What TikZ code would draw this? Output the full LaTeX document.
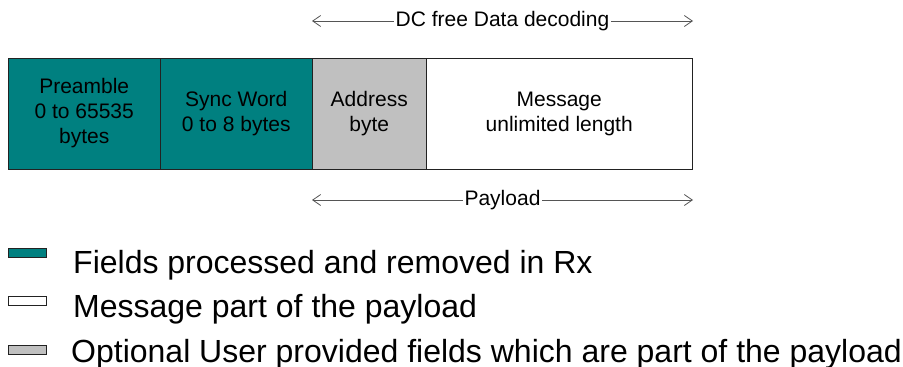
\documentclass[tikz,border=0pt]{standalone}
\usepackage{fontspec}
\setmainfont{Liberation Sans}
\usetikzlibrary{arrows.meta}
\definecolor{teal1}{HTML}{008080}
\definecolor{gray1}{HTML}{C0C0C0}
\definecolor{edge1}{HTML}{222222}
\definecolor{arr1}{HTML}{555555}
\begin{document}
\begin{tikzpicture}[x=1pt,y=-1pt,
  field/.style={draw=edge1,line width=0.9pt,minimum height=111pt,inner sep=0pt,outer sep=0pt,
    anchor=north west,align=center,font=\fontsize{21}{25}\selectfont},
  swatch/.style={draw=edge1,line width=0.8pt,minimum width=38pt,minimum height=9pt,inner sep=0pt,anchor=north west},
  legtext/.style={anchor=base west,inner sep=0pt,font=\fontsize{32}{38}\selectfont},
  span/.style={draw=arr1,line width=0.8pt,{Straight Barb[length=8pt,width=11pt]}-{Straight Barb[length=8pt,width=11pt]}},
  spanlabel/.style={fill=white,inner sep=2pt,font=\fontsize{21}{25}\selectfont,text=black}]
\useasboundingbox (0,0) rectangle (903,367);
% fields
\node[field,fill=teal1,minimum width=152.5pt] (pre) at (8,58) {Preamble\\0 to 65535\\bytes};
\node[field,fill=teal1,minimum width=151.5pt] (sync) at (160.5,58) {Sync Word\\0 to 8 bytes};
\node[field,fill=gray1,minimum width=114.5pt] (addr) at (312,58) {Address\\byte};
\node[field,fill=white,minimum width=265.5pt] (msg) at (426.5,58) {Message\\unlimited length};
% spans
\coordinate (dcL) at (312,21);
\coordinate (dcR) at (693,21);
\draw[span] (dcL) -- node[spanlabel] (dc) {DC free Data decoding} (dcR);
\coordinate (plL) at (312,200);
\coordinate (plR) at (693,200);
\draw[span] (plL) -- node[spanlabel] (pl) {Payload} (plR);
% legend
\node[swatch,fill=teal1] (s1) at (8,248) {};
\node[legtext] (t1) at (73,273) {Fields processed and removed in Rx};
\node[swatch,fill=white] (s2) at (8,295.5) {};
\node[legtext] (t2) at (73,317.5) {Message part of the payload};
\node[swatch,fill=gray1] (s3) at (8,344.5) {};
\node[legtext] (t3) at (71,362) {Optional User provided fields which are part of the payload};
\end{tikzpicture}
\end{document}
